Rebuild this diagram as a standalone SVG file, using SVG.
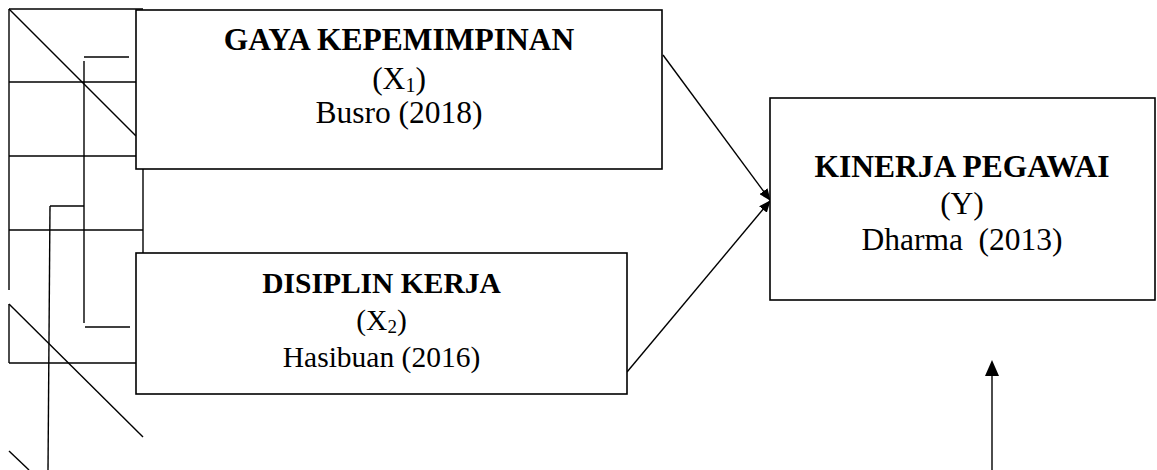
<svg xmlns="http://www.w3.org/2000/svg" width="1157" height="470" viewBox="0 0 1157 470">
<style>
.ln{stroke:#000;stroke-width:1.4;fill:none}
.bx{stroke:#000;stroke-width:1.6;fill:#fff}
.t{font-family:"Liberation Serif","Times New Roman",serif;fill:#000;text-anchor:middle}
.b{font-weight:bold}
</style>
<defs>
<marker id="ah" markerWidth="12" markerHeight="10" refX="11" refY="5" orient="auto" markerUnits="userSpaceOnUse">
<path d="M0,0 L12,5 L0,10 z" fill="#000"/>
</marker>
</defs>
<g id="grid">
<line class="ln" x1="9" y1="9" x2="9" y2="290"/>
<line class="ln" x1="9" y1="304" x2="9" y2="363"/>
<line class="ln" x1="9" y1="9" x2="143" y2="9"/>
<line class="ln" x1="9" y1="9" x2="136" y2="136"/>
<line class="ln" x1="9" y1="82" x2="136" y2="82"/>
<line class="ln" x1="9" y1="156" x2="136" y2="156"/>
<line class="ln" x1="9" y1="230" x2="143" y2="230"/>
<line class="ln" x1="9" y1="363" x2="136" y2="363"/>
<line class="ln" x1="143" y1="169" x2="143" y2="253"/>
<line class="ln" x1="84" y1="57" x2="129" y2="57"/>
<line class="ln" x1="84" y1="61" x2="84" y2="323"/>
<line class="ln" x1="85" y1="327" x2="130" y2="327"/>
<line class="ln" x1="50" y1="206" x2="84" y2="206"/>
<line class="ln" x1="50" y1="206" x2="48" y2="470"/>
<line class="ln" x1="9" y1="304" x2="143" y2="437"/>
<line class="ln" x1="9" y1="451" x2="29" y2="470"/>
</g>
<g id="connectors">
<line class="ln" x1="663" y1="55" x2="770" y2="200" marker-end="url(#ah)"/>
<line class="ln" x1="627" y1="372" x2="770" y2="201" marker-end="url(#ah)"/>
<line class="ln" x1="992" y1="470" x2="992" y2="372"/>
<polygon points="992,360 985,376 999,376" fill="#000"/>
</g>
<g id="gaya">
<rect class="bx" x="136" y="10" width="526" height="159"/>
<text class="t b" x="399" y="50" font-size="31.5">GAYA KEPEMIMPINAN</text>
<text class="t" x="399" y="89" font-size="31.5">(X<tspan font-size="20" dy="3">1</tspan><tspan dy="-3">)</tspan></text>
<text class="t" x="399" y="123" font-size="31.5">Busro (2018)</text>
</g>
<g id="disiplin">
<rect class="bx" x="136" y="253" width="491" height="141"/>
<text class="t b" x="381.5" y="293" font-size="29.5">DISIPLIN KERJA</text>
<text class="t" x="381.5" y="330" font-size="29.5">(X<tspan font-size="19" dy="3">2</tspan><tspan dy="-3">)</tspan></text>
<text class="t" x="381.5" y="367" font-size="29.5">Hasibuan (2016)</text>
</g>
<g id="kinerja">
<rect class="bx" x="770" y="98" width="385" height="202"/>
<text class="t b" x="962" y="177" font-size="31.5">KINERJA PEGAWAI</text>
<text class="t" x="962" y="214" font-size="31.5">(Y)</text>
<text class="t" x="962" y="250" font-size="31.5" xml:space="preserve">Dharma  (2013)</text>
</g>
</svg>
